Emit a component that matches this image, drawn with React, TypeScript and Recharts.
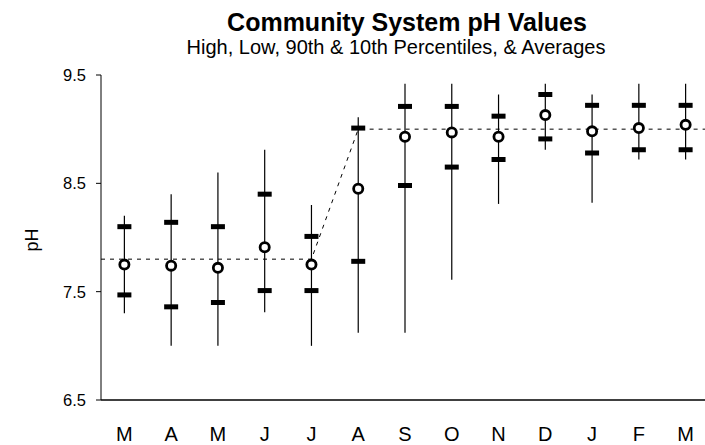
import React from 'react';
import { ComposedChart, Scatter, XAxis, YAxis, ErrorBar } from 'recharts';

const months = ['M', 'A', 'M', 'J', 'J', 'A', 'S', 'O', 'N', 'D', 'J', 'F', 'M'];
const highs = [8.2, 8.4, 8.6, 8.81, 8.3, 9.11, 9.42, 9.42, 9.32, 9.42, 9.32, 9.42, 9.42];
const p90s = [8.1, 8.14, 8.1, 8.4, 8.01, 9.01, 9.21, 9.21, 9.12, 9.32, 9.22, 9.22, 9.22];
const avgs = [7.75, 7.74, 7.72, 7.91, 7.75, 8.45, 8.93, 8.97, 8.93, 9.13, 8.98, 9.01, 9.04];
const p10s = [7.47, 7.36, 7.4, 7.51, 7.51, 7.78, 8.48, 8.65, 8.72, 8.91, 8.78, 8.81, 8.81];
const lows = [7.3, 7.0, 7.0, 7.31, 7.0, 7.12, 7.12, 7.61, 8.31, 8.81, 8.32, 8.72, 8.72];

const trendX = [0.5, 5, 6, 13.5];
const trendY = [7.8, 7.8, 9.0, 9.0];

const yTicks = [6.5, 7.5, 8.5, 9.5];

const rows = months.map((m, i) => ({
  x: i + 1,
  month: m,
  high: highs[i],
  p90: p90s[i],
  avg: avgs[i],
  p10: p10s[i],
  low: lows[i],
  err: [avgs[i] - lows[i], highs[i] - avgs[i]],
}));

const trend = trendX.map((x, i) => ({ x, y: trendY[i] }));

const edgeTicks = months.map((_, i) => i + 0.5).concat([months.length + 0.5]);
const labelTicks = months.map((_, i) => i + 1);

const FONT = '"Liberation Sans", Arial, Helvetica, sans-serif';

const Nothing = () => <g />;

const PctBar = (p: any) => (
  <rect x={p.cx - 7} y={p.cy - 2.5} width={14} height={5} fill="#000" />
);

const AvgDot = (p: any) => (
  <circle cx={p.cx} cy={p.cy} r={4.6} fill="#fff" stroke="#000" strokeWidth={2.8} />
);

export default function App() {
  return (
    <div
      style={{
        position: 'absolute',
        left: 0,
        top: 0,
        width: 705,
        height: 445,
        overflow: 'hidden',
        background: '#fff',
        fontFamily: FONT,
      }}
    >
      <div
        style={{
          position: 'absolute',
          left: 407,
          top: 10,
          transform: 'translateX(-50%)',
          whiteSpace: 'nowrap',
          fontWeight: 'bold',
          fontSize: 25,
          lineHeight: '25px',
          color: '#000',
        }}
      >
        Community System pH Values
      </div>
      <div
        style={{
          position: 'absolute',
          left: 396,
          top: 37,
          transform: 'translateX(-50%)',
          whiteSpace: 'nowrap',
          fontSize: 20,
          lineHeight: '20px',
          color: '#000',
        }}
      >
        High, Low, 90th &amp; 10th Percentiles, &amp; Averages
      </div>
      <div
        style={{
          position: 'absolute',
          left: 32,
          top: 240,
          transform: 'translate(-50%, -50%) rotate(-90deg)',
          whiteSpace: 'nowrap',
          fontSize: 18,
          lineHeight: '18px',
          color: '#000',
        }}
      >
        pH
      </div>
      <ComposedChart
        width={720}
        height={445}
        margin={{ top: 75, right: 11, bottom: 0, left: 0 }}
        style={{ position: 'absolute', left: 0, top: 0 }}
      >
        <XAxis
          xAxisId="edge"
          dataKey="x"
          type="number"
          domain={[0.5, 13.5]}
          allowDataOverflow
          ticks={edgeTicks}
          interval={0}
          tick={false}
          tickSize={6}
          height={6}
          axisLine={{ stroke: '#000', strokeWidth: 1.5 }}
          tickLine={{ stroke: '#000', strokeWidth: 1 }}
        />
        <XAxis
          xAxisId="lab"
          dataKey="x"
          type="number"
          domain={[0.5, 13.5]}
          allowDataOverflow
          ticks={labelTicks}
          interval={0}
          tickFormatter={(v: number) => months[v - 1] ?? ''}
          tickSize={0}
          tickMargin={21}
          height={39}
          axisLine={false}
          tickLine={false}
          tick={{ fill: '#000', fontSize: 20, fontFamily: FONT }}
        />
        <YAxis
          type="number"
          domain={[6.5, 9.5]}
          allowDataOverflow
          ticks={yTicks}
          interval={0}
          width={101}
          tickSize={5}
          tickMargin={10}
          tickFormatter={(v: number) => v.toFixed(1)}
          axisLine={{ stroke: '#000', strokeWidth: 1 }}
          tickLine={{ stroke: '#000', strokeWidth: 1 }}
          tick={{ fill: '#000', fontSize: 16.5, fontFamily: FONT }}
        />
        <Scatter
          xAxisId="edge"
          data={trend}
          dataKey="y"
          line={{ stroke: '#000', strokeWidth: 1, strokeDasharray: '4 5' }}
          lineType="joint"
          shape={Nothing}
          isAnimationActive={false}
        />
        <Scatter
          xAxisId="edge"
          data={rows}
          dataKey="avg"
          shape={Nothing}
          isAnimationActive={false}
        >
          <ErrorBar dataKey="err" direction="y" width={0} stroke="#000" strokeWidth={1.2} isAnimationActive={false} />
        </Scatter>
        <Scatter xAxisId="edge" data={rows} dataKey="p90" shape={PctBar} isAnimationActive={false} />
        <Scatter xAxisId="edge" data={rows} dataKey="p10" shape={PctBar} isAnimationActive={false} />
        <Scatter xAxisId="edge" data={rows} dataKey="avg" shape={AvgDot} isAnimationActive={false} />
      </ComposedChart>
    </div>
  );
}
